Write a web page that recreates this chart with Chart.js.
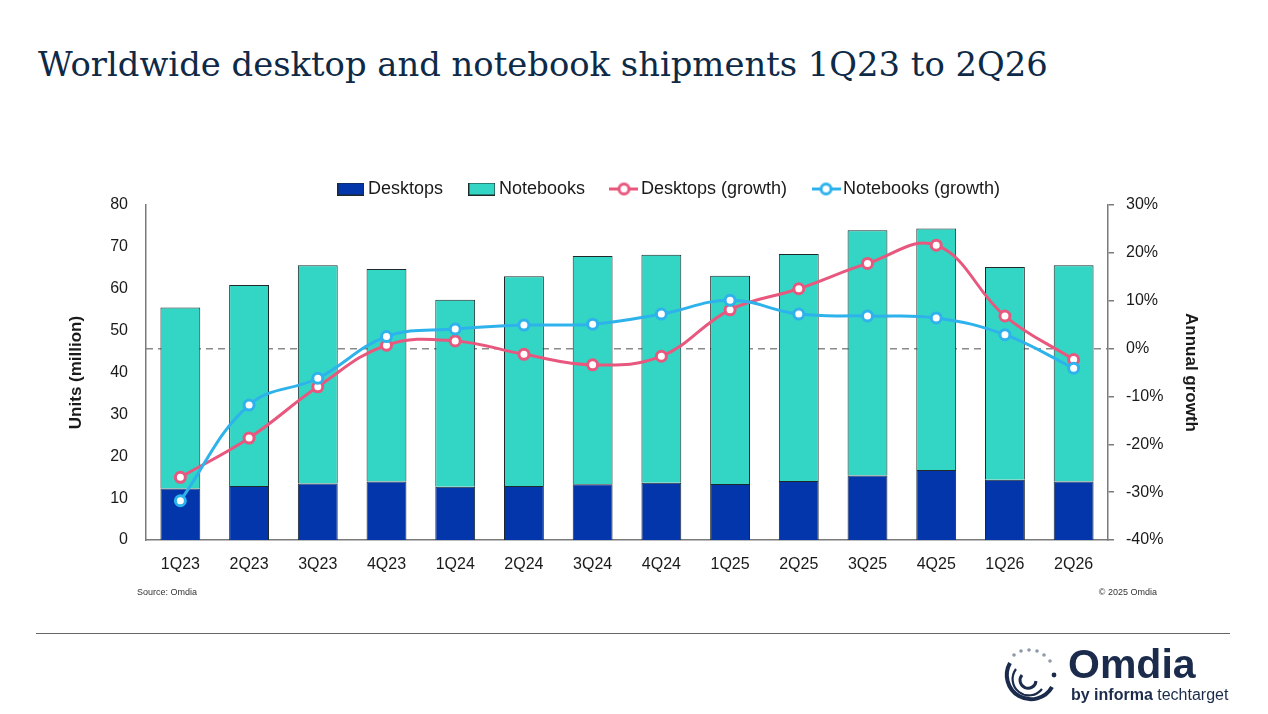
<!DOCTYPE html>
<html>
<head>
<meta charset="utf-8">
<script src="https://cdn.jsdelivr.net/npm/chart.js@4.4.1/dist/chart.umd.min.js"></script>
<style>
  html, body { margin:0; padding:0; background:#ffffff; overflow:hidden; }
  body { width:1268px; height:714px; position:relative; font-family:"Liberation Sans", Arial, sans-serif; }
  #title { position:absolute; left:38px; top:45px; font-family:"DejaVu Serif", serif; font-size:33.8px; line-height:40px; color:#0E2A47; white-space:nowrap; }
  #chart { position:absolute; left:0; top:0; }
  .note { position:absolute; font-size:9px; color:#333; top:587px; white-space:nowrap; }
  #rule { position:absolute; left:36px; width:1194px; top:633px; height:0; border-top:1px solid #666; }
  #logoText { position:absolute; left:1068px; top:644px; font-family:"Liberation Sans", Arial, sans-serif; font-weight:bold; font-size:41px; color:#1B2B4B; line-height:41px; }
  #logoSub { position:absolute; left:1071px; top:686px; font-family:"Liberation Sans", Arial, sans-serif; font-size:16px; color:#1B2B4B; line-height:17px; white-space:nowrap; }
  #logoIcon { position:absolute; left:996px; top:645px; }
</style>
</head>
<body>
<div id="title">Worldwide desktop and notebook shipments 1Q23 to 2Q26</div>
<canvas id="chart" width="1268" height="714"></canvas>
<div class="note" style="left:137px;">Source: Omdia</div>
<div class="note" style="right:111px;">© 2025 Omdia</div>
<div id="rule"></div>
<svg id="logoIcon" width="66" height="64" viewBox="0 0 66 64">
  <g fill="#8E99AA">
    <circle cx="33" cy="5" r="1.8"/><circle cx="41" cy="6" r="1.8"/><circle cx="48" cy="10" r="1.8"/><circle cx="54" cy="16" r="1.8"/><circle cx="25" cy="6" r="1.8"/><circle cx="18" cy="10" r="1.8"/>
  </g>
  <path d="M 14 18 A 22 22 0 1 0 56 42" fill="none" stroke="#1B2B4B" stroke-width="4"/>
  <path d="M 20 24 A 15 15 0 1 0 46 44" fill="none" stroke="#1B2B4B" stroke-width="2.2"/>
  <path d="M 26 30 A 8 8 0 1 0 40 36" fill="none" stroke="#1B2B4B" stroke-width="3"/>
  <circle cx="58" cy="30" r="2.4" fill="#1B2B4B"/>
</svg>
<div id="logoText">Omdia</div>
<div id="logoSub"><b>by informa</b> techtarget</div>
<script>
const categories = ['1Q23','2Q23','3Q23','4Q23','1Q24','2Q24','3Q24','4Q24','1Q25','2Q25','3Q25','4Q25','1Q26','2Q26'];
const desktops = [12.3,12.9,13.5,14.0,12.7,12.9,13.3,13.7,13.4,14.1,15.4,16.7,14.4,14.0];
const notebooks = [43.2,48.0,52.1,50.7,44.7,50.1,54.5,54.4,49.7,54.2,58.6,57.7,50.8,51.6];
const desktopGrowth = [-26.9,-18.7,-8.0,0.7,1.6,-1.2,-3.4,-1.6,8.1,12.5,17.8,21.6,6.8,-2.3];
const notebookGrowth = [-31.8,-11.8,-6.2,2.5,4.1,4.9,5.1,7.2,10.1,7.2,6.8,6.4,2.9,-4.1];
const unitTicks = [0,10,20,30,40,50,60,70,80];
const growthTicks = [-40,-30,-20,-10,0,10,20,30];

const C_DESK = '#0335AB', C_NOTE = '#33D6C4', C_PINK = '#E8577D', C_BLUE = '#2EB2EC';
const EDGE = '#1E2A2A';
const FONT = '"Liberation Sans", Arial, sans-serif';

function barIcon(color){
  const c = document.createElement('canvas'); c.width = 27; c.height = 13;
  const x = c.getContext('2d'); x.fillStyle = color; x.fillRect(0.5,0.5,26,12);
  x.strokeStyle = EDGE; x.lineWidth = 1; x.strokeRect(0.5,0.5,26,12); return c;
}
function lineIcon(color){
  const c = document.createElement('canvas'); c.width = 29; c.height = 15;
  const x = c.getContext('2d'); x.strokeStyle = color; x.lineWidth = 3;
  x.beginPath(); x.moveTo(0,7.5); x.lineTo(29,7.5); x.stroke();
  x.beginPath(); x.arc(14.5,7.5,5,0,Math.PI*2); x.fillStyle='#fff'; x.fill(); x.lineWidth=3; x.stroke(); return c;
}
const icons = [barIcon(C_DESK), barIcon(C_NOTE), lineIcon(C_PINK), lineIcon(C_BLUE)];

const shiftLegend = {
  id:'shiftLegend',
  afterLayout(chart){ const l = chart.legend; if(!l) return; l.left += 40; l.right += 40; l.top += 3; l.bottom += 3; }
};

new Chart(document.getElementById('chart'), {
  data: {
    labels: categories,
    datasets: [
      { type:'bar', label:'Desktops', data:desktops, backgroundColor:C_DESK, borderColor:EDGE, borderWidth:1, yAxisID:'y', order:2, stack:'s' },
      { type:'bar', label:'Notebooks', data:notebooks, backgroundColor:C_NOTE, borderColor:EDGE, borderWidth:1, yAxisID:'y', order:3, stack:'s' },
      { type:'line', label:'Desktops (growth)', data:desktopGrowth, borderColor:C_PINK, backgroundColor:'#fff', borderWidth:3, pointRadius:5, pointBorderWidth:3, pointBackgroundColor:'#fff', pointBorderColor:C_PINK, tension:0.4, yAxisID:'y1', order:1 },
      { type:'line', label:'Notebooks (growth)', data:notebookGrowth, borderColor:C_BLUE, backgroundColor:'#fff', borderWidth:3, pointRadius:5, pointBorderWidth:3, pointBackgroundColor:'#fff', pointBorderColor:C_BLUE, tension:0.4, yAxisID:'y1', order:0 }
    ]
  },
  options: {
    responsive:false, animation:false, devicePixelRatio:1,
    layout:{ padding:{ left:60, right:65, top:146, bottom:134 } },
    datasets:{ bar:{ barPercentage:0.58, categoryPercentage:1 } },
    plugins:{
      tooltip:{ enabled:false },
      legend:{
        display:true, position:'top',
        labels:{
          usePointStyle:true, pointStyleWidth:16, padding:31, color:'#1a1a1a',
          font:{ family:FONT, size:18 },
          sort:(a,b)=>a.datasetIndex-b.datasetIndex,
          generateLabels:(chart)=>{
            const items = Chart.defaults.plugins.legend.labels.generateLabels(chart);
            items.forEach(it=>{ it.pointStyle = icons[it.datasetIndex]; it.lineWidth = 0; });
            return items;
          }
        }
      }
    },
    scales:{
      x:{
        stacked:true, offset:true,
        grid:{ display:false },
        border:{ display:true, color:'#7a7a7a', width:1.5 },
        ticks:{ color:'#1a1a1a', padding:7, font:{ family:FONT, size:16 } },
        afterFit:(s)=>{ s.height = 40; }
      },
      y:{
        stacked:true, position:'left', min:0, max:80,
        afterBuildTicks:(s)=>{ s.ticks = unitTicks.map(v=>({value:v})); },
        grid:{ display:false },
        border:{ display:true, color:'#7a7a7a', width:1.5 },
        ticks:{ color:'#1a1a1a', padding:10, font:{ family:FONT, size:16 } },
        title:{ display:true, text:'Units (million)', color:'#1a1a1a', padding:{top:6,bottom:4}, font:{ family:FONT, size:17, weight:'bold' } },
        afterFit:(s)=>{ s.width = 86; }
      },
      y1:{
        stacked:false, position:'right', min:-40, max:30,
        afterBuildTicks:(s)=>{ s.ticks = growthTicks.map(v=>({value:v})); },
        grid:{
          display:true, drawOnChartArea:true, drawTicks:true, tickLength:6,
          color:(ctx)=> (ctx.tick && ctx.tick.value===0) ? '#8a8a8a' : 'rgba(0,0,0,0)',
          lineWidth:1.5, tickColor:'#7a7a7a', tickWidth:1.5, tickBorderDash:[]
        },
        border:{ display:true, color:'#7a7a7a', width:1.5, dash:[7,5] },
        ticks:{ color:'#1a1a1a', padding:12, callback:(v)=>v+'%', font:{ family:FONT, size:16 } },
        title:{ display:true, text:'Annual growth', color:'#1a1a1a', padding:{top:2,bottom:4}, font:{ family:FONT, size:17, weight:'bold' } },
        afterFit:(s)=>{ s.width = 95; }
      }
    }
  },
  plugins:[shiftLegend]
});
</script>
</body>
</html>
